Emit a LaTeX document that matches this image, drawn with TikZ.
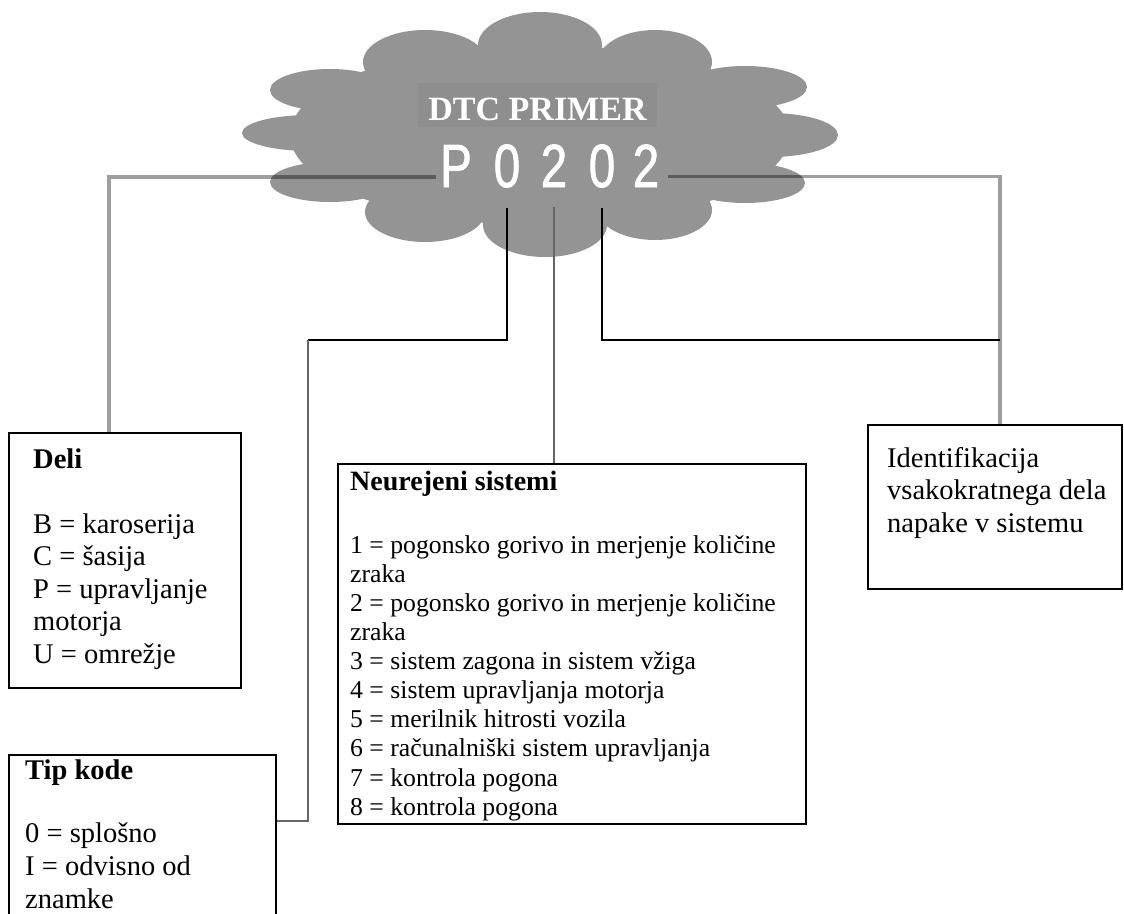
\documentclass[tikz,border=0pt]{standalone}
\usepackage{fontspec}
\setmainfont{Liberation Serif}
\newfontfamily\codefont[FakeStretch=0.78,FakeBold=1.2]{Liberation Sans}
\usetikzlibrary{calc}

\definecolor{cloudgray}{RGB}{148,148,148}
\definecolor{labelgray}{RGB}{142,142,142}

\tikzset{
    infobox/.style={draw, line width=2.2pt, anchor=north west, inner sep=0pt},
    boxtext/.style={anchor=north west, inner sep=0pt, align=left, font=\fontsize{28.5}{32.5}\selectfont},
    digit/.style={anchor=base, inner xsep=3pt, inner ysep=20pt, text=white, font=\codefont\fontsize{61}{61}\selectfont},
    wire/.style={line width=2pt},
    greywire/.style={line width=2.4pt, black!60},
    faintwire/.style={line width=3.5pt, black, opacity=0.38},
}

\begin{document}
\begin{tikzpicture}[x=1pt, y=-1pt]
        \useasboundingbox (0,0) rectangle (1124,913);

        % oblak
        \fill[cloudgray] (540,45) ellipse [x radius=62, y radius=33]
            (425,62) ellipse [x radius=62, y radius=32]
            (655,62) ellipse [x radius=57, y radius=32]
            (330,90) ellipse [x radius=60, y radius=21]
            (310,133) ellipse [x radius=68, y radius=18]
            (330,182) ellipse [x radius=60, y radius=20]
            (425,212) ellipse [x radius=60, y radius=30]
            (545,225) ellipse [x radius=62, y radius=32]
            (655,210) ellipse [x radius=57, y radius=30]
            (745,183) ellipse [x radius=60, y radius=20]
            (770,135) ellipse [x radius=68, y radius=22]
            (745,87) ellipse [x radius=62, y radius=21]
            (540,135) ellipse [x radius=250, y radius=90];

        \node[anchor=base, fill=labelgray, text=white, inner xsep=0pt, inner ysep=0pt,
              minimum width=239, text height=37pt, text depth=7pt,
              font=\bfseries\fontsize{34}{34}\selectfont] (title) at (537.5,120) {DTC PRIMER};

        \node[digit] (codeP) at (456,187) {P};
        \node[digit] (code0a) at (507,187) {0};
        \node[digit] (code2a) at (554,187) {2};
        \node[digit] (code0b) at (602,187) {0};
        \node[digit] (code2b) at (646,187) {2};

        \node[infobox, minimum width=232, minimum height=255] (deli) at (8,432) {};
        \node[infobox, minimum width=267, minimum height=200] (tip) at (8,754) {};
        \node[infobox, minimum width=468, minimum height=360] (neur) at (337,463) {};
        \node[infobox, minimum width=254, minimum height=164] (ident) at (867,424) {};

        \node[boxtext] (deliText) at (33,445.25) {\strut\textbf{Deli}\\[32.5pt]B = karoserija\\C = šasija\\P = upravljanje\\motorja\\U = omrežje};
        \node[boxtext, font=\fontsize{28.5}{33}\selectfont] (tipText) at (25,755.9) {\strut\textbf{Tip kode}\\[30pt]0 = splošno\\I = odvisno od\\znamke};
        \node[boxtext] (identText) at (887,444.25) {\strut Identifikacija\\vsakokratnega dela\\napake v sistemu};
        \node[boxtext, font=\fontsize{25.7}{29.1}\selectfont] (neurText) at (350,469.6) {\strut{\fontsize{28}{29.1}\selectfont\textbf{Neurejeni sistemi}}\\[34pt]1 = pogonsko gorivo in merjenje količine\\zraka\\2 = pogonsko gorivo in merjenje količine\\zraka\\3 = sistem zagona in sistem vžiga\\4 = sistem upravljanja motorja\\5 = merilnik hitrosti vozila\\6 = računalniški sistem upravljanja\\7 = kontrola pogona\\8 = kontrola pogona};

        \coordinate (elbowA) at (308,340);
        \coordinate (elbowB) at (308,821);

        \draw[faintwire] ([yshift=-11pt,xshift=-1pt]codeP.west) -| ([xshift=-16pt]deli.north);
        \draw[faintwire] ([yshift=-11pt,xshift=6pt]code2b.east) -| ([xshift=5pt]ident.north);

        \draw[wire] (code0a.south) |- (elbowA);
        \draw[greywire] (elbowA) -- (elbowB) -- (tip.east |- elbowB);
        \draw[greywire] (code2a.south) -- (code2a.south |- neur.north);
        \draw[wire] (code0b.south) |- ([xshift=5pt]ident.north |- elbowA);

\end{tikzpicture}
\end{document}
